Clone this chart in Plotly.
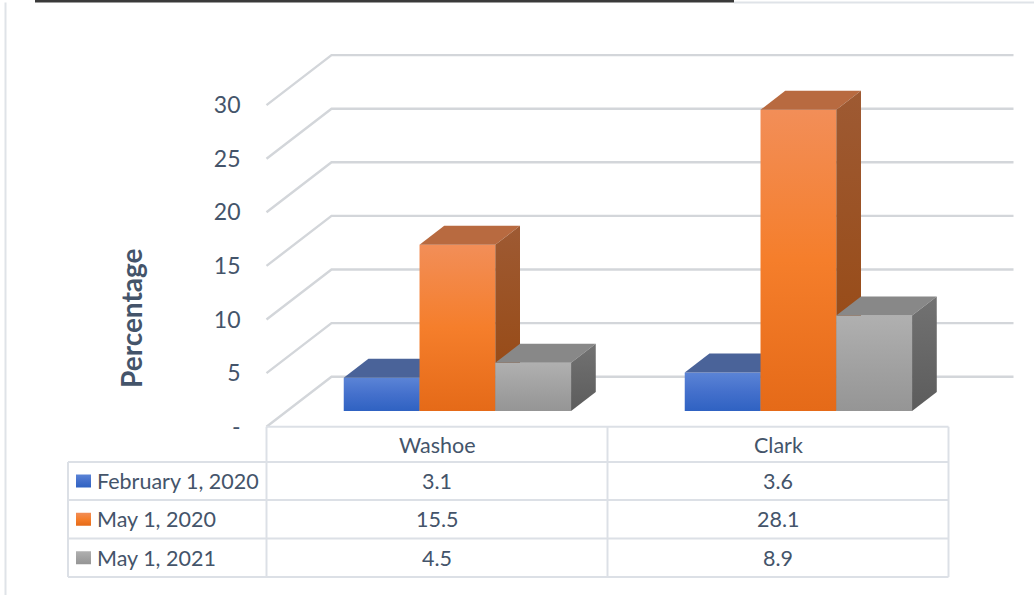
import plotly.graph_objects as go

# ---- data ----
categories = ["Washoe", "Clark"]
series_names = ["February 1, 2020", "May 1, 2020", "May 1, 2021"]
feb_2020 = [3.1, 3.6]
may_2020 = [15.5, 28.1]
may_2021 = [4.5, 8.9]
y_ticks = [0, 5, 10, 15, 20, 25, 30]
y_tick_text = ["-", "5", "10", "15", "20", "25", "30"]

series_values = [feb_2020, may_2020, may_2021]

# ---- styling ----
TEXT = "#44546A"
FONT = "Lato"
GRID = "#D3D6DA"
TABLE_LINE = "#DCE0E6"
TABLE_FONT = 21.5

# front colour gradient (bottom, middle, top), top face, side face (bottom, top)
styles = [
    dict(front=["#2F62C2", "#4470CC", "#5B84D6"], top="#4A6399", side=["#27467F", "#34548F"]),
    dict(front=["#E56A18", "#F57E2B", "#F28E58"], top="#B86A40", side=["#96470F", "#9E5A33"]),
    dict(front=["#959595", "#A2A2A2", "#B0B0B0"], top="#888888", side=["#5C5C5C", "#727272"]),
]

# ---- geometry of the oblique 3-D projection ----
W, H = 1034, 595
PX_X = 341.0     # pixels per category slot
PX_Y = 10.72     # pixels per percentage point
X0_PX = 266.5    # floor front-left corner
Y0_PX = 426.7    # floor front edge (value 0)

DEPTH_X = 65.0 / PX_X   # full depth offset, x units
DEPTH_Y = 50.0 / PX_Y   # full depth offset, y units
BAR_FRONT = 0.314       # bar front plane (fraction of depth)
BAR_BACK = 0.694        # bar back plane
BAR_W = 1 / 4.5         # gap width 150 %
GAP = (1 - 3 * BAR_W) / 2


def xd(px):
    return (px - X0_PX) / PX_X


def yd(py):
    return (Y0_PX - py) / PX_Y


def px_paper(px):
    return px / W


def py_paper(py):
    return 1 - py / H


fig = go.Figure()


def face(xs, ys, colors):
    kw = dict(x=xs + [xs[0]], y=ys + [ys[0]], mode="lines", fill="toself",
              line=dict(width=0), hoverinfo="skip", showlegend=False)
    if isinstance(colors, str):
        kw["fillcolor"] = colors
    else:
        n = len(colors) - 1
        kw["fillgradient"] = dict(type="vertical",
                                  colorscale=[[k / n, c] for k, c in enumerate(colors)])
    fig.add_trace(go.Scatter(**kw))


# gridlines: side wall diagonal + back wall horizontal
n_cat = len(categories)
for v in y_ticks:
    fig.add_trace(go.Scatter(
        x=[0, DEPTH_X, n_cat + DEPTH_X],
        y=[v, v + DEPTH_Y, v + DEPTH_Y],
        mode="lines", line=dict(color=GRID, width=2.4),
        hoverinfo="skip", showlegend=False))

# 3-D columns
fx, fy = BAR_FRONT * DEPTH_X, BAR_FRONT * DEPTH_Y
bx, by = BAR_BACK * DEPTH_X, BAR_BACK * DEPTH_Y
for i in range(n_cat):
    for s, vals in enumerate(series_values):
        v = vals[i]
        st = styles[s]
        xl = i + GAP + s * BAR_W
        xr = xl + BAR_W
        # front face
        face([xl + fx, xr + fx, xr + fx, xl + fx],
             [fy, fy, v + fy, v + fy], st["front"])
        # top face
        face([xl + fx, xr + fx, xr + bx, xl + bx],
             [v + fy, v + fy, v + by, v + by], st["top"])
        # right side face
        face([xr + fx, xr + bx, xr + bx, xr + fx],
             [fy, by, v + by, v + fy], st["side"])

# ---- data table ----
col_px = [68.0, X0_PX, X0_PX + PX_X, X0_PX + 2 * PX_X]
row_px = [Y0_PX, 462.0, 500.0, 538.5, 577.0]

shapes = []


def hline(y, x0, x1, color=TABLE_LINE, width=2):
    shapes.append(dict(type="line", xref="paper", yref="paper",
                       x0=px_paper(x0), x1=px_paper(x1),
                       y0=py_paper(y), y1=py_paper(y),
                       line=dict(color=color, width=width)))


def vline(x, y0, y1, color=TABLE_LINE, width=2):
    shapes.append(dict(type="line", xref="paper", yref="paper",
                       x0=px_paper(x), x1=px_paper(x),
                       y0=py_paper(y0), y1=py_paper(y1),
                       line=dict(color=color, width=width)))


hline(row_px[0], col_px[1], col_px[3])
for r in row_px[1:]:
    hline(r, col_px[0], col_px[3])
for c in col_px[1:]:
    vline(c, row_px[0], row_px[-1])
vline(col_px[0], row_px[1], row_px[-1])

# chart border and the dark rule above it
shapes.append(dict(type="rect", xref="paper", yref="paper",
                   x0=px_paper(35), x1=px_paper(734), y0=py_paper(2.5), y1=1,
                   fillcolor="#3A3A3A", line=dict(width=0)))
hline(2.5, 734, W, color="#DFE3E8", width=2)
vline(5.5, 2.5, H, color="#DFE3E8", width=2)

annotations = []
for i, cat in enumerate(categories):
    annotations.append(dict(x=i + 0.5, y=yd((row_px[0] + row_px[1]) / 2 + 1),
                            xref="x", yref="y", xanchor="center", yanchor="middle",
                            text=cat, showarrow=False,
                            font=dict(family=FONT, size=TABLE_FONT, color=TEXT)))

for s, name in enumerate(series_names):
    yc = (row_px[s + 1] + row_px[s + 2]) / 2
    annotations.append(dict(x=px_paper(95), y=py_paper(yc), xref="paper", yref="paper",
                            xanchor="left", yanchor="middle", text=name, showarrow=False,
                            font=dict(family=FONT, size=TABLE_FONT, color=TEXT)))
    for i in range(n_cat):
        annotations.append(dict(x=i + 0.5, y=yd(yc), xref="x", yref="y",
                                xanchor="center", yanchor="middle",
                                text=f"{series_values[s][i]:.1f}", showarrow=False,
                                font=dict(family=FONT, size=TABLE_FONT, color=TEXT)))
    # legend key
    k0, k1 = 76.0, 91.0
    face([xd(k0), xd(k1), xd(k1), xd(k0)],
         [yd(yc + 6.5), yd(yc + 6.5), yd(yc - 6.5), yd(yc - 6.5)], styles[s]["front"])

annotations.append(dict(x=px_paper(131), y=py_paper(318), xref="paper", yref="paper",
                        xanchor="center", yanchor="middle",
                        text="<b>Percentage</b>", textangle=-90, showarrow=False,
                        font=dict(family=FONT, size=28, color=TEXT)))

fig.update_layout(
    width=W, height=H,
    margin=dict(l=0, r=0, t=0, b=0),
    paper_bgcolor="white", plot_bgcolor="white",
    shapes=shapes, annotations=annotations,
    showlegend=False,
    xaxis=dict(domain=[0, 1], range=[xd(0), xd(W)], visible=False, fixedrange=True),
    yaxis=dict(domain=[0, 1], range=[yd(H), yd(0)], anchor="free",
               position=px_paper(X0_PX), tickvals=y_ticks, ticktext=y_tick_text,
               showgrid=False, zeroline=False, showline=False, ticks="",
               ticklabelstandoff=26,
               tickfont=dict(family=FONT, size=23, color=TEXT), fixedrange=True),
)

fig.write_html("out.html")
